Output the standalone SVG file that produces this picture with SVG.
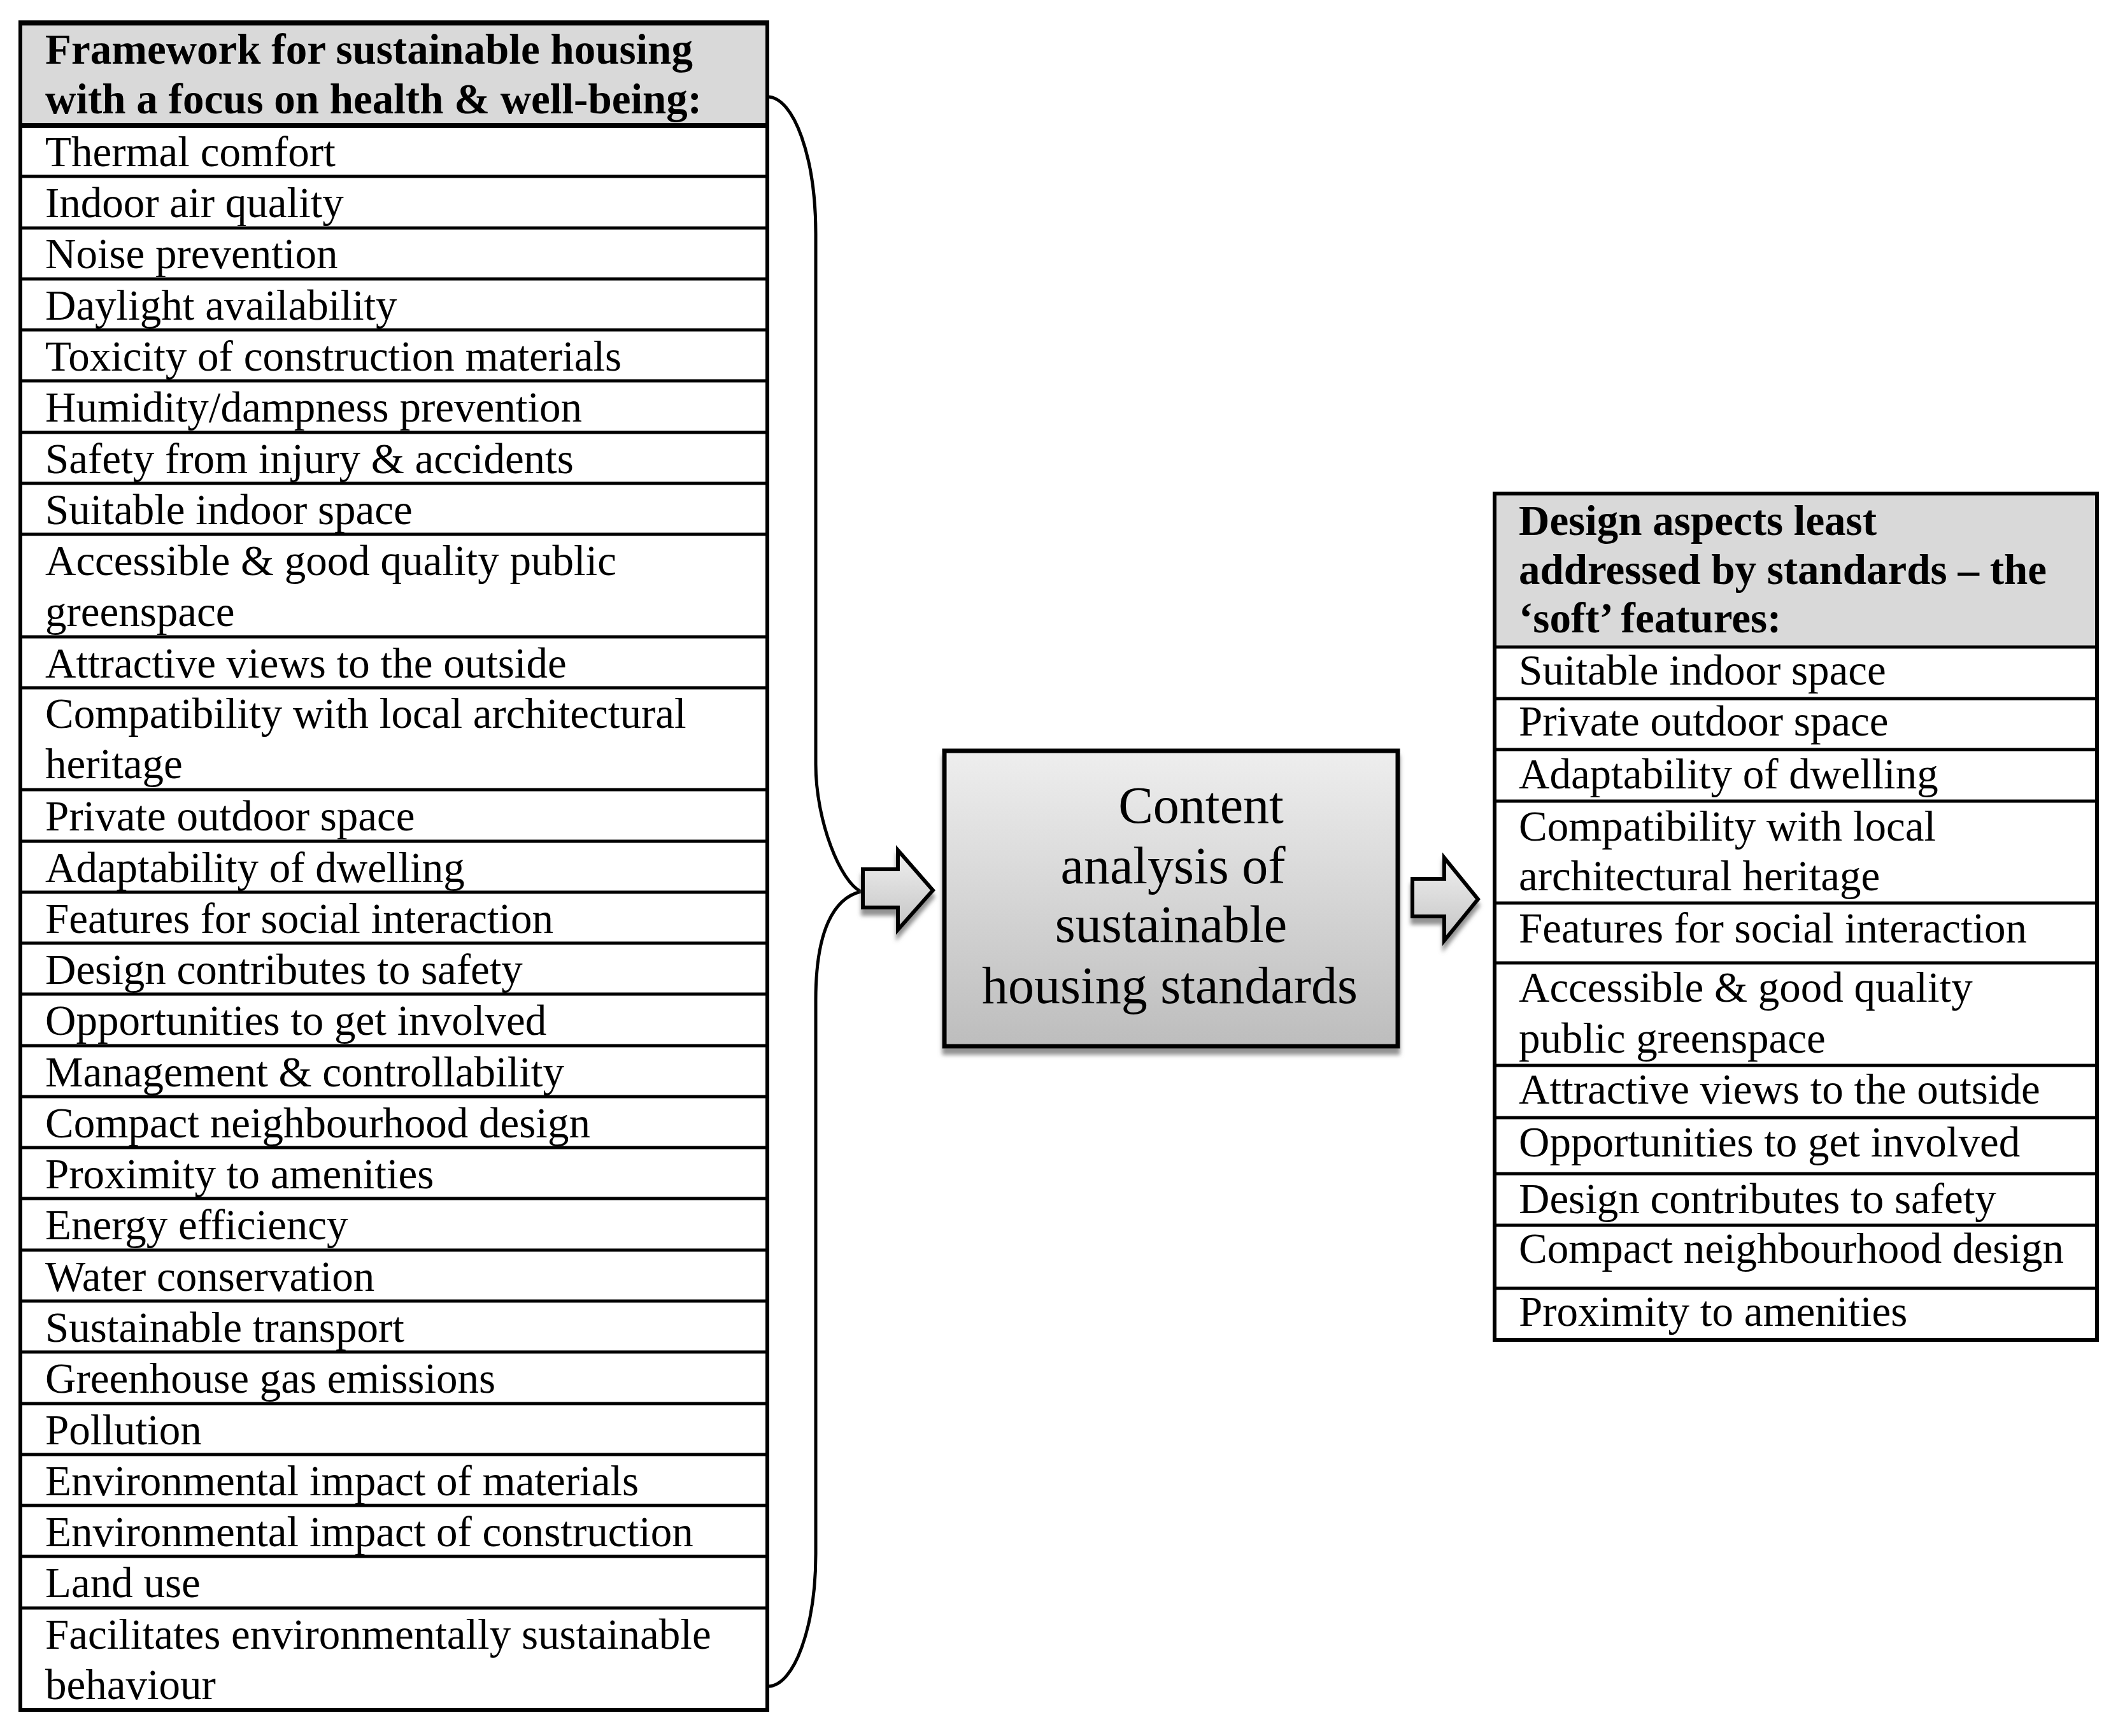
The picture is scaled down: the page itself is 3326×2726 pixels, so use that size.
<svg xmlns="http://www.w3.org/2000/svg" width="3326" height="2726" viewBox="0 0 3326 2726">
<style>
.t{font-family:"Liberation Serif","Times New Roman",serif;font-size:67px;fill:#000}
.b{font-weight:bold}
.c{font-family:"Liberation Serif","Times New Roman",serif;font-size:82px;fill:#000;text-anchor:middle}
.ln{stroke:#000;stroke-width:5;fill:none}
.thick{stroke:#000;stroke-width:8;fill:none}
.frame{fill:none;stroke:#000;stroke-width:6}
.brace{fill:none;stroke:#000;stroke-width:5}
.arrow{fill:url(#ag);stroke:#000;stroke-width:6;stroke-linejoin:miter}
</style>
<defs>
<linearGradient id="bg" x1="0" y1="0" x2="0" y2="1">
<stop offset="0" stop-color="#eeeeee"/>
<stop offset="1" stop-color="#bdbdbd"/>
</linearGradient>
<linearGradient id="ag" x1="0" y1="0" x2="0" y2="1">
<stop offset="0" stop-color="#f0f0f0"/>
<stop offset="1" stop-color="#c4c4c4"/>
</linearGradient>
<filter id="sh" x="-10%" y="-10%" width="130%" height="140%">
<feGaussianBlur in="SourceAlpha" stdDeviation="3"/>
<feOffset dx="0" dy="10" result="o"/>
<feFlood flood-color="#777777" flood-opacity="0.8"/>
<feComposite in2="o" operator="in"/>
<feMerge><feMergeNode/><feMergeNode in="SourceGraphic"/></feMerge>
</filter>
</defs>
<rect width="3326" height="2726" fill="#ffffff"/>

<g id="framework">
<rect x="32" y="36" width="1173" height="2649" fill="#ffffff"/>
<rect x="32" y="36" width="1173" height="161" fill="#d9d9d9"/>
<line class="thick" x1="29" y1="36" x2="1208" y2="36"/>
<line class="thick" x1="29" y1="197" x2="1208" y2="197"/>
<g>
<line class="ln" x1="32" y1="277" x2="1205" y2="277"/>
<line class="ln" x1="32" y1="358" x2="1205" y2="358"/>
<line class="ln" x1="32" y1="438" x2="1205" y2="438"/>
<line class="ln" x1="32" y1="518" x2="1205" y2="518"/>
<line class="ln" x1="32" y1="598" x2="1205" y2="598"/>
<line class="ln" x1="32" y1="679" x2="1205" y2="679"/>
<line class="ln" x1="32" y1="759" x2="1205" y2="759"/>
<line class="ln" x1="32" y1="839" x2="1205" y2="839"/>
<line class="ln" x1="32" y1="1000" x2="1205" y2="1000"/>
<line class="ln" x1="32" y1="1080" x2="1205" y2="1080"/>
<line class="ln" x1="32" y1="1240" x2="1205" y2="1240"/>
<line class="ln" x1="32" y1="1321" x2="1205" y2="1321"/>
<line class="ln" x1="32" y1="1401" x2="1205" y2="1401"/>
<line class="ln" x1="32" y1="1481" x2="1205" y2="1481"/>
<line class="ln" x1="32" y1="1561" x2="1205" y2="1561"/>
<line class="ln" x1="32" y1="1642" x2="1205" y2="1642"/>
<line class="ln" x1="32" y1="1722" x2="1205" y2="1722"/>
<line class="ln" x1="32" y1="1802" x2="1205" y2="1802"/>
<line class="ln" x1="32" y1="1882" x2="1205" y2="1882"/>
<line class="ln" x1="32" y1="1963" x2="1205" y2="1963"/>
<line class="ln" x1="32" y1="2043" x2="1205" y2="2043"/>
<line class="ln" x1="32" y1="2123" x2="1205" y2="2123"/>
<line class="ln" x1="32" y1="2204" x2="1205" y2="2204"/>
<line class="ln" x1="32" y1="2284" x2="1205" y2="2284"/>
<line class="ln" x1="32" y1="2364" x2="1205" y2="2364"/>
<line class="ln" x1="32" y1="2444" x2="1205" y2="2444"/>
<line class="ln" x1="32" y1="2525" x2="1205" y2="2525"/>
</g>
<rect class="frame" x="32" y="36" width="1173" height="2649"/>
<text class="t b" x="71" y="100">Framework for sustainable housing</text>
<text class="t b" x="71" y="178">with a focus on health &amp; well-being:</text>
<text class="t" x="71" y="261">Thermal comfort</text>
<text class="t" x="71" y="341">Indoor air quality</text>
<text class="t" x="71" y="421">Noise prevention</text>
<text class="t" x="71" y="502">Daylight availability</text>
<text class="t" x="71" y="582">Toxicity of construction materials</text>
<text class="t" x="71" y="662">Humidity/dampness prevention</text>
<text class="t" x="71" y="743">Safety from injury &amp; accidents</text>
<text class="t" x="71" y="823">Suitable indoor space</text>
<text class="t" x="71" y="903">Accessible &amp; good quality public</text>
<text class="t" x="71" y="983">greenspace</text>
<text class="t" x="71" y="1064">Attractive views to the outside</text>
<text class="t" x="71" y="1143">Compatibility with local architectural</text>
<text class="t" x="71" y="1222">heritage</text>
<text class="t" x="71" y="1304">Private outdoor space</text>
<text class="t" x="71" y="1385">Adaptability of dwelling</text>
<text class="t" x="71" y="1465">Features for social interaction</text>
<text class="t" x="71" y="1545">Design contributes to safety</text>
<text class="t" x="71" y="1625">Opportunities to get involved</text>
<text class="t" x="71" y="1706">Management &amp; controllability</text>
<text class="t" x="71" y="1786">Compact neighbourhood design</text>
<text class="t" x="71" y="1866">Proximity to amenities</text>
<text class="t" x="71" y="1946">Energy efficiency</text>
<text class="t" x="71" y="2027">Water conservation</text>
<text class="t" x="71" y="2107">Sustainable transport</text>
<text class="t" x="71" y="2187">Greenhouse gas emissions</text>
<text class="t" x="71" y="2268">Pollution</text>
<text class="t" x="71" y="2348">Environmental impact of materials</text>
<text class="t" x="71" y="2428">Environmental impact of construction</text>
<text class="t" x="71" y="2508">Land use</text>
<text class="t" x="71" y="2589">Facilitates environmentally sustainable</text>
<text class="t" x="71" y="2668">behaviour</text>
</g>

<g id="content-analysis">
<rect x="1483" y="1179" width="712" height="464" fill="url(#bg)" stroke="#000" stroke-width="7" filter="url(#sh)"/>
<text class="c" x="1886" y="1292">Content</text>
<text class="c" x="1842" y="1387">analysis of</text>
<text class="c" x="1839" y="1479">sustainable</text>
<text class="c" x="1837" y="1575">housing standards</text>
</g>

<g id="soft-features">
<rect x="2347" y="775" width="946" height="1329" fill="#ffffff"/>
<rect x="2347" y="775" width="946" height="241" fill="#d9d9d9"/>
<line class="ln" x1="2347" y1="1016" x2="3293" y2="1016"/>
<line class="ln" x1="2347" y1="1097" x2="3293" y2="1097"/>
<line class="ln" x1="2347" y1="1177" x2="3293" y2="1177"/>
<line class="ln" x1="2347" y1="1258" x2="3293" y2="1258"/>
<line class="ln" x1="2347" y1="1418" x2="3293" y2="1418"/>
<line class="ln" x1="2347" y1="1512" x2="3293" y2="1512"/>
<line class="ln" x1="2347" y1="1673" x2="3293" y2="1673"/>
<line class="ln" x1="2347" y1="1755" x2="3293" y2="1755"/>
<line class="ln" x1="2347" y1="1843" x2="3293" y2="1843"/>
<line class="ln" x1="2347" y1="1924" x2="3293" y2="1924"/>
<line class="ln" x1="2347" y1="2023" x2="3293" y2="2023"/>
<rect class="frame" x="2347" y="775" width="946" height="1329"/>
<text class="t b" x="2385" y="840">Design aspects least</text>
<text class="t b" x="2385" y="917">addressed by standards – the</text>
<text class="t b" x="2385" y="993">‘soft’ features:</text>
<text class="t" x="2385" y="1075">Suitable indoor space</text>
<text class="t" x="2385" y="1155">Private outdoor space</text>
<text class="t" x="2385" y="1238">Adaptability of dwelling</text>
<text class="t" x="2385" y="1320">Compatibility with local</text>
<text class="t" x="2385" y="1398">architectural heritage</text>
<text class="t" x="2385" y="1480">Features for social interaction</text>
<text class="t" x="2385" y="1573">Accessible &amp; good quality</text>
<text class="t" x="2385" y="1653">public greenspace</text>
<text class="t" x="2385" y="1733">Attractive views to the outside</text>
<text class="t" x="2385" y="1816">Opportunities to get involved</text>
<text class="t" x="2385" y="1905">Design contributes to safety</text>
<text class="t" x="2385" y="1983">Compact neighbourhood design</text>
<text class="t" x="2385" y="2082">Proximity to amenities</text>
</g>

<g id="connectors">
<path class="brace" d="M1205,152 C1247,152 1281,248 1281,367 L1281,1200 C1281,1290 1320,1385 1352,1400"/>
<path class="brace" d="M1352,1400 C1310,1410 1281,1460 1281,1570 L1281,2440 C1281,2555 1247,2648 1206,2648"/>
<path class="arrow" filter="url(#sh)" d="M1355,1365 L1410,1365 L1410,1335 L1465,1398 L1410,1460 L1410,1425 L1355,1425 Z"/>
<path class="arrow" filter="url(#sh)" d="M2218,1380 L2268,1380 L2268,1347 L2321,1412 L2268,1477 L2268,1439 L2218,1439 Z"/>
</g>
</svg>
